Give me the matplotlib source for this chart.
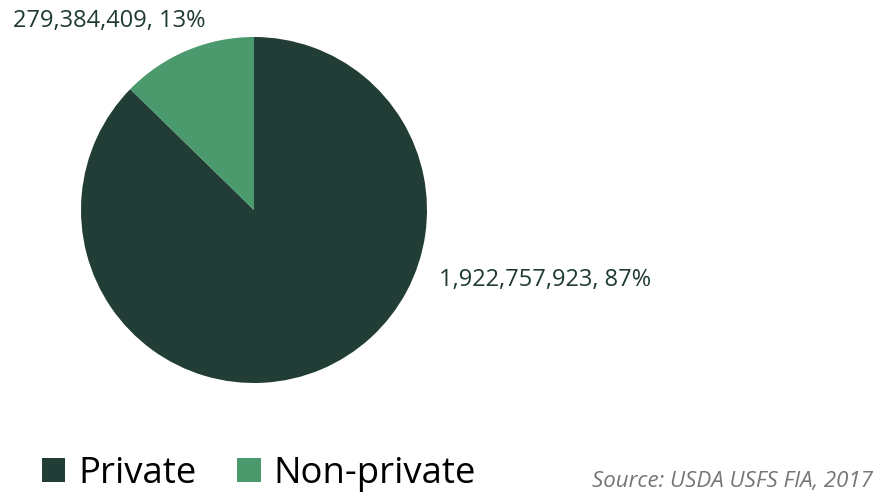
import matplotlib.pyplot as plt

labels = ['Private', 'Non-private']
acres = [1922757923, 279384409]
shares = [87, 13]
colors = ['#213D36', '#4A9A6E']

plt.rcParams['font.family'] = ['Open Sans', 'DejaVu Sans']

fig = plt.figure(figsize=(8.92, 4.98), dpi=100)
ax = fig.add_axes([81 / 892, 115 / 498, 346 / 892, 346 / 498])
wedges, _ = ax.pie(acres, colors=colors, startangle=90, counterclock=False,
                   wedgeprops=dict(linewidth=0))
ax.set_xlim(-1, 1)
ax.set_ylim(-1, 1)
ax.set_aspect('equal')

label_txt = ['{:,}, {}%'.format(v, s) for v, s in zip(acres, shares)]
fig.text(439 / 892, 1 - 280 / 498, label_txt[0], fontsize=17, color='#1E3A33',
         ha='left', va='center')
fig.text(13 / 892, 1 - 21 / 498, label_txt[1], fontsize=17, color='#1E3A33',
         ha='left', va='center')

fig.legend(wedges, labels, loc='center left', bbox_to_anchor=(27 / 892, 1 - 474 / 498),
           ncol=2, frameon=False, fontsize=26.3, handlelength=0.65, handleheight=0.65,
           handletextpad=0.36, columnspacing=1.1, borderaxespad=0)

fig.text(873 / 892, 1 - 481 / 498, 'Source: USDA USFS FIA, 2017', fontsize=16,
         style='italic', color='#767676', ha='right', va='center')

fig.savefig('out.png', dpi=100)
